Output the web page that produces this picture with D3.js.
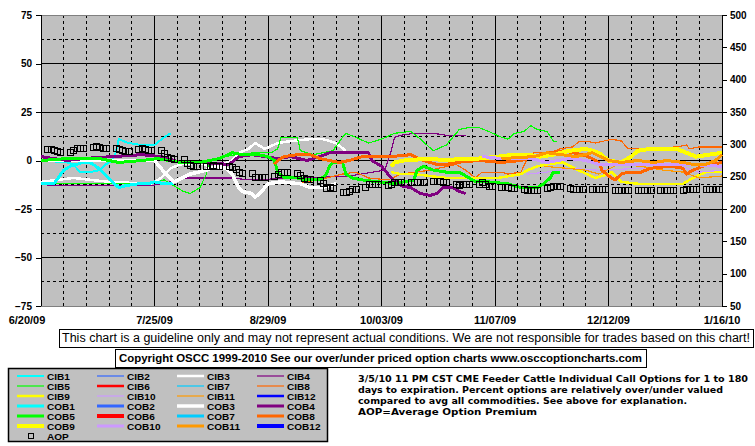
<!DOCTYPE html>
<html>
<head>
<meta charset="utf-8">
<script src="https://cdn.jsdelivr.net/npm/d3@7"></script>
<style>
body { margin: 0; background: #fff; }
text { font-family: "Liberation Sans", Arial, sans-serif; }
.axis text { font-weight: bold; font-size: 10px; }
.axis path { display: none; }
.axis line { stroke: #000; }
</style>
</head>
<body>
<svg id="chart" width="755" height="446"></svg>
<script>
// ---- data ----
// series points are [days since 6/20/09, percent over/under]
var START = "2009-06-20";
var END = "2010-01-16";

var tickDays = [0, 35, 70, 105, 140, 175, 210];
var tickLabels = ["6/20/09", "7/25/09", "8/29/09", "10/03/09", "11/07/09", "12/12/09", "1/16/10"];

var leftTicks = [-75, -50, -25, 0, 25, 50, 75];
var rightTicks = [50, 100, 150, 200, 250, 300, 350, 400, 450, 500];

var seriesNames = ["CIB1","CIB2","CIB3","CIB4","CIB5","CIB6","CIB7","CIB8","CIB9","CIB10","CIB11","CIB12",
                   "COB1","COB2","COB3","COB4","COB5","COB6","COB7","COB8","COB9","COB10","COB11","COB12"];
var monthColors = ["#00FFFF","#3366FF","#FFFFFF","#800080","#00FF00","#FF0000",
                   "#00CCFF","#FF6600","#FFFF00","#CC99FF","#FF9900","#0000FF"];
var cibWidths = [2, 1.2, 2.5, 1.2, 1.2, 2.5, 1.2, 1.2, 2.5, 1.2, 1.2, 2.5];
var cobWidths = [3, 3, 3.5, 3, 3, 4, 3, 3, 4, 3, 3, 4];

var CIB1 = [[0,0],[8,-1],[10,-2],[12,-6],[15,-6],[18,-5],[20,-2],[22,0],[23,4],[24,11],[27,9],[31,8],[35,8],[38,12],[40,14]];
var CIB2 = [];
var CIB3 = [[0,-11],[10,-9],[21,-11],[34,-12],[37,-9],[40,-4],[43,-2],[49,-1],[53,-4],[59,0],[61,4],[64,6],[66,9],[69,6],[73,9],[77,10],[83,11],[87,11],[91,9],[94,5]];
var CIB4 = [[2,-13],[18,-13],[34,-13],[40,-11],[45,-9],[51,-9],[59,-9],[64,-10],[80,-9],[95,-8],[106,-5],[108,5],[109,12],[111,13],[115,14],[121,14],[125,13],[131,13]];
var CIB5 = [[0,-12],[10,-12],[34,-12],[38,-10],[41,-13],[44,-16],[46,-17],[49,-14],[51,-7],[52,-1],[54,1],[60,3],[66,4],[71,4],[73,6],[74,12],[77,12],[79,12],[80,5],[84,3],[90,5],[93,12],[94,14],[97,12],[101,9],[105,11],[109,14],[114,15],[117,11],[121,5],[125,8],[129,16],[132,17],[135,17],[138,15],[142,12],[144,11],[146,14],[149,15],[151,18],[153,16],[156,15],[158,10],[159,10]];
var CIB6 = [];
var CIB7 = [];
var CIB8 = [[73,-11],[79,-12],[88,-9],[93,-7],[97,-6],[101,-9],[107,-10],[111,-7],[120,-5],[128,-2],[131,-5],[134,-9],[136,-6],[142,-6],[144,-7],[148,-6],[150,1],[152,4],[155,4],[157,4],[160,6],[164,7],[166,10],[168,10],[171,9],[176,11],[179,10],[181,6],[185,6],[196,7],[199,8],[200,6],[203,7],[210,7]];
var CIB9 = [[108,-6],[111,-7],[115,-7],[125,-9],[131,-9],[135,-9],[141,-9],[148,-7],[150,-5],[153,-3],[156,-2],[161,-1],[167,-6],[171,-9],[175,-7],[176,-6],[179,-11],[184,-12],[193,-12],[198,-12],[201,-9],[205,-6],[210,-6]];
var CIB10 = [[150,-7],[156,-6],[163,-4],[172,-5],[185,-4],[197,-3],[203,-6],[210,-5]];
var CIB11 = [[155,-3],[162,-4],[168,-5],[172,-7],[178,-2],[185,-3],[192,-5],[198,-6],[203,-9],[210,-8]];
var CIB12 = [];

var COB1 = [[0,-12],[4,-12],[7,-5],[9,-3],[13,-1],[15,-1],[17,-3],[19,-6],[22,-11],[24,-14],[26,-13],[30,-12],[33,-12],[35,-11],[38,-12],[41,-12]];
var COB2 = [];
var COB3 = [[0,0],[18,0],[35,0],[38,-6],[41,-11],[46,-7],[51,-5],[54,-3],[57,-4],[59,-7],[61,-14],[62,-16],[65,-17],[66,-19],[68,-16],[70,-12],[74,-11],[80,-12],[83,-14],[86,-14],[89,-13],[91,-12]];
var COB4 = [[0,2],[8,0],[13,1],[31,3],[37,2],[43,-1],[49,-1],[58,-2],[61,2],[65,3],[69,2],[73,1],[77,2],[82,0],[86,2],[89,4],[93,4],[97,4],[101,4],[102,0],[105,-3],[108,-9],[111,-13],[114,-14],[117,-17],[120,-18],[122,-17],[124,-14],[127,-14],[129,-16],[131,-17]];
var COB5 = [[0,0],[8,1],[18,1],[24,-1],[31,0],[36,1],[43,-1],[49,-1],[55,1],[59,4],[62,3],[67,3],[70,2],[72,0],[73,-6],[75,-9],[79,-9],[82,-10],[86,-10],[88,-7],[89,-3],[90,-1],[93,-1],[94,-7],[96,-9],[99,-10],[104,-11],[109,-12],[115,-10],[116,-5],[118,-3],[121,-5],[125,-6],[129,-6],[131,-8],[134,-11],[138,-11],[144,-12],[148,-14],[153,-14],[155,-12],[157,-9],[158,-6],[160,-6]];
var COB6 = [];
var COB7 = [];
var COB8 = [[72,-2],[73,0],[75,2],[79,3],[83,3],[86,1],[89,0],[92,-1],[95,0],[99,2],[104,2],[108,2],[114,3],[118,0],[122,-2],[125,-2],[128,-1],[135,0],[142,-1],[148,0],[153,2],[157,4],[161,5],[167,3],[170,1],[172,-1],[173,-5],[175,-8],[177,-10],[179,-7],[181,-6],[185,-6],[188,-4],[194,-3],[198,-4],[199,-7],[201,-5],[204,-3],[210,-1]];
var COB9 = [[108,-3],[109,-1],[112,0],[120,1],[125,0],[130,1],[135,1],[141,2],[146,3],[150,3],[154,2],[158,3],[163,5],[168,6],[172,4],[175,0],[179,-1],[182,2],[184,5],[188,6],[196,6],[199,4],[202,2],[206,3],[210,4]];
var COB10 = [[136,2],[142,1],[151,1],[156,-1],[163,1],[168,0],[172,-2],[180,-2],[190,-2],[200,-2],[210,-3]];
var COB11 = [[142,1],[152,2],[156,4],[165,2],[170,4],[175,0],[179,-1],[184,0],[189,-1],[193,0],[198,-1],[201,-2],[205,-2],[208,0],[210,3]];
var COB12 = [];

// average option premium, one value per trading day (Mon-Fri), one row per week
var AOP = [
    293,293,291,289,288, 288,292,294,294,294, 296,297,296,294,294, 294,293,292,290,290,
    293,294,293,291,291, 291,287,280,279,278, 277,271,268,266,266, 266,266,268,266,266,
    266,265,262,257,255, 256,250,250,250,249, 251,254,257,257,257, 256,253,248,247,246,
    245,240,232,234,233, 226,226,228,231,231, 234,239,239,239,239, 237,239,242,242,242,
    242,242,242,242,241, 243,243,243,242,242, 239,237,239,239,239, 239,242,239,236,236,
    234,234,234,232,232, 231,229,229,229,229, 232,234,236,235,235, 232,231,231,231,231,
    231,231,231,231,231, 229,229,229,229,229, 229,229,229,229,229, 229,229,229,229,229,
    229,231,231,231,231, 231,231,231,231,231
];

var seriesData = [CIB1,CIB2,CIB3,CIB4,CIB5,CIB6,CIB7,CIB8,CIB9,CIB10,CIB11,CIB12,
                  COB1,COB2,COB3,COB4,COB5,COB6,COB7,COB8,COB9,COB10,COB11,COB12];

// ---- layout ----
var PLOT = { left: 41, right: 722, top: 15, bottom: 306 };

var parse = d3.timeParse("%Y-%m-%d");
var startDate = parse(START), endDate = parse(END);
function dayToDate(d) { return d3.timeDay.offset(startDate, d); }

var x = d3.scaleTime().domain([startDate, endDate]).range([PLOT.left, PLOT.right]);
var yL = d3.scaleLinear().domain([-75, 75]).range([PLOT.bottom, PLOT.top]);
var yR = d3.scaleLinear().domain([50, 500]).range([PLOT.bottom, PLOT.top]);

var svg = d3.select("#chart");

svg.append("rect")
    .attr("x", PLOT.left).attr("y", PLOT.top)
    .attr("width", PLOT.right - PLOT.left).attr("height", PLOT.bottom - PLOT.top)
    .attr("fill", "#C0C0C0");

// grid: solid on labelled values, dashed in between
var grid = svg.append("g").attr("shape-rendering", "crispEdges");
d3.range(-62.5, 75, 12.5).forEach(function(v) {
    grid.append("line")
        .attr("x1", PLOT.left).attr("x2", PLOT.right)
        .attr("y1", yL(v)).attr("y2", yL(v))
        .attr("stroke", "#000")
        .attr("stroke-dasharray", v % 25 == 0 ? null : "3,3");
});
d3.range(7, 210, 7).forEach(function(d) {
    var px = x(dayToDate(d));
    grid.append("line")
        .attr("x1", px).attr("x2", px)
        .attr("y1", PLOT.top).attr("y2", PLOT.bottom)
        .attr("stroke", "#000")
        .attr("stroke-dasharray", d % 35 == 0 ? null : "3,3");
});
grid.append("line")
    .attr("x1", PLOT.left).attr("x2", PLOT.right)
    .attr("y1", PLOT.top).attr("y2", PLOT.top)
    .attr("stroke", "#808080");
grid.append("line")
    .attr("x1", PLOT.left).attr("x2", PLOT.right)
    .attr("y1", PLOT.bottom).attr("y2", PLOT.bottom)
    .attr("stroke", "#808080");
grid.append("line")
    .attr("x1", PLOT.left).attr("x2", PLOT.left)
    .attr("y1", PLOT.top).attr("y2", PLOT.bottom)
    .attr("stroke", "#000");
grid.append("line")
    .attr("x1", PLOT.right).attr("x2", PLOT.right)
    .attr("y1", PLOT.top).attr("y2", PLOT.bottom)
    .attr("stroke", "#000");

// axes
svg.append("g")
    .attr("class", "axis")
    .attr("shape-rendering", "crispEdges")
    .attr("transform", "translate(" + PLOT.left + ",0)")
    .call(d3.axisLeft(yL).tickValues(leftTicks).tickSize(5).tickSizeOuter(0).tickPadding(4));
svg.append("g")
    .attr("class", "axis")
    .attr("shape-rendering", "crispEdges")
    .attr("transform", "translate(" + PLOT.right + ",0)")
    .call(d3.axisRight(yR).tickValues(rightTicks).tickSize(5).tickSizeOuter(0).tickPadding(3));

svg.selectAll(".dateLabel").data(tickDays).enter().append("text")
    .attr("class", "dateLabel")
    .attr("x", function(d, i) { return i == 0 ? 27 : x(dayToDate(d)); })
    .attr("y", 324)
    .attr("text-anchor", "middle")
    .style("font-weight", "bold").style("font-size", "11px")
    .text(function(d, i) { return tickLabels[i]; });

// series lines (jagged like the original bitmap)
var line = d3.line()
    .x(function(d) { return x(dayToDate(d[0])); })
    .y(function(d) { return yL(d[1]); });

var plot = svg.append("g");
seriesData.forEach(function(pts, i) {
    if (!pts.length) return;
    var m = i % 12;
    plot.append("path")
        .datum(pts)
        .attr("fill", "none")
        .attr("stroke", monthColors[m])
        .attr("stroke-width", i < 12 ? cibWidths[m] : cobWidths[m])
        .attr("stroke-linejoin", "round")
        .attr("shape-rendering", "optimizeSpeed")
        .attr("d", line);
});

// AOP squares on the right axis
var tradingDays = d3.timeDay.range(d3.timeDay.offset(startDate, 2), endDate)
    .filter(function(d) { return d.getDay() > 0 && d.getDay() < 6; });
plot.selectAll(".aop").data(AOP).enter().append("rect")
    .attr("class", "aop")
    .attr("x", function(d, i) { return Math.round(x(tradingDays[i])) - 2.5; })
    .attr("y", function(d) { return Math.round(yR(d)) - 2.5; })
    .attr("width", 6).attr("height", 6)
    .attr("fill", "none").attr("stroke", "#000")
    .attr("shape-rendering", "crispEdges");

// notice boxes
function box(x0, y0, w, h) {
    svg.append("rect")
        .attr("x", x0 + 0.5).attr("y", y0 + 0.5).attr("width", w).attr("height", h)
        .attr("fill", "#fff").attr("stroke", "#000");
}
box(59, 329, 694, 18);
svg.append("text")
    .attr("x", 62).attr("y", 342)
    .attr("textLength", 688).attr("lengthAdjust", "spacingAndGlyphs")
    .style("font-size", "12px")
    .text("This chart is a guideline only and may not represent actual conditions. We are not responsible for trades based on this chart!");
box(115, 349, 531, 18);
svg.append("text")
    .attr("x", 119).attr("y", 362)
    .attr("textLength", 523).attr("lengthAdjust", "spacingAndGlyphs")
    .style("font-size", "11px").style("font-weight", "bold")
    .text("Copyright OSCC 1999-2010 See our over/under priced option charts www.osccoptioncharts.com");

var notes = ["3/5/10 11 PM CST CME Feeder Cattle Individual Call Options for 1 to 180",
             "days to expiration. Percent options are relatively over/under valued",
             "compared to avg all commodities. See above for explanation.",
             "AOP=Average Option Premium"];
var noteWidths = [390, 365, 329, 179];
notes.forEach(function(t, i) {
    svg.append("text")
        .attr("x", 358).attr("y", 382 + i * 11)
        .attr("textLength", noteWidths[i]).attr("lengthAdjust", "spacingAndGlyphs")
        .style("font-family", "'DejaVu Sans Condensed', 'DejaVu Sans', sans-serif")
        .style("font-size", "9.2px").style("font-weight", "bold")
        .text(t);
});

// legend: 4 columns, CIB rows then COB rows, AOP at the end
var legend = svg.append("g");
legend.append("rect")
    .attr("x", 8.5).attr("y", 368.5).attr("width", 319).attr("height", 73)
    .attr("fill", "#C0C0C0").attr("stroke", "#000").attr("stroke-width", 1.5);

function legendText(lx, ly, label) {
    var t = legend.append("text")
        .attr("x", lx).attr("y", ly)
        .style("font-size", "8.6px").style("font-weight", "bold")
        .text(label);
    // the original glyphs are wider than this size gives
    var w = t.node().getComputedTextLength();
    t.attr("textLength", w * 1.17).attr("lengthAdjust", "spacingAndGlyphs");
}

seriesNames.forEach(function(name, i) {
    var m = i % 12, row = Math.floor(i / 4), col = i % 4;
    var lx = 17 + col * 80, ly = 376 + row * 10;
    legend.append("line")
        .attr("x1", lx).attr("x2", lx + 27)
        .attr("y1", ly).attr("y2", ly)
        .attr("stroke", monthColors[m])
        .attr("stroke-width", i < 12 ? cibWidths[m] : cobWidths[m]);
    legendText(lx + 30, ly + 3.5, name);
});
legend.append("rect")
    .attr("x", 28.5).attr("y", 433.5).attr("width", 5).attr("height", 5)
    .attr("fill", "none").attr("stroke", "#000");
legendText(47, 439.5, "AOP");
</script>
</body>
</html>
